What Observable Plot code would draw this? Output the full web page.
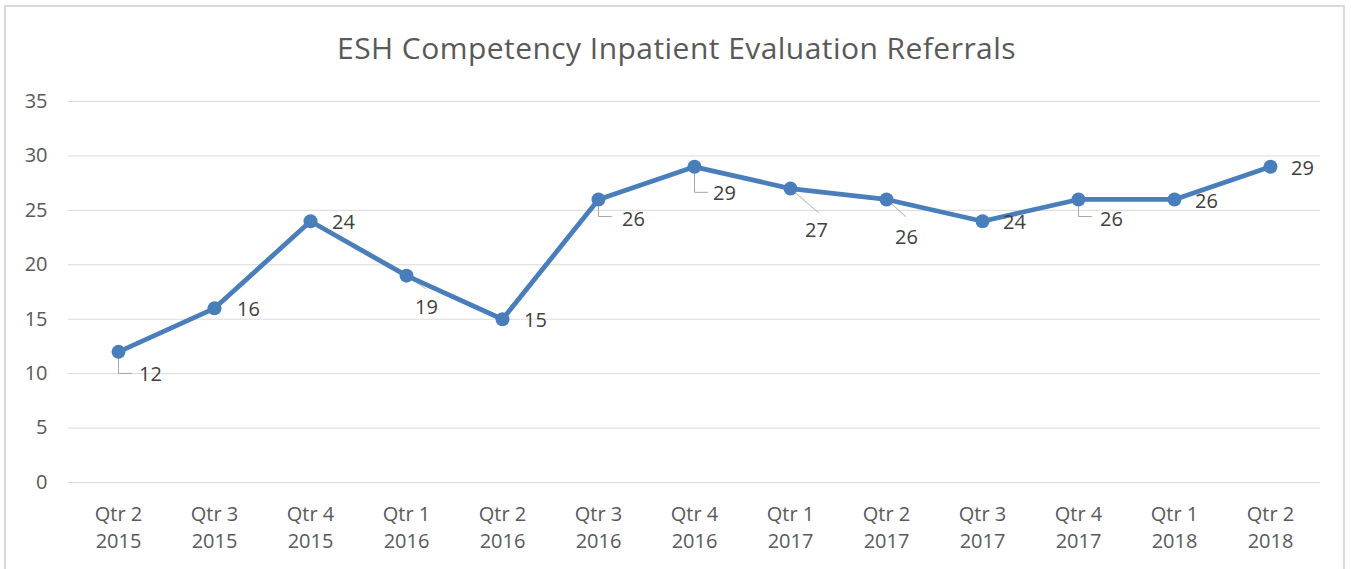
<!DOCTYPE html>
<html>
<head>
<meta charset="utf-8">
<script src="https://cdn.jsdelivr.net/npm/d3@7"></script>
<script src="https://cdn.jsdelivr.net/npm/@observablehq/plot@0.6"></script>
<style>
  html, body { margin: 0; padding: 0; background: #fff; width: 1351px; height: 569px; overflow: hidden; }
  #frame { position: absolute; left: 4px; top: 5px; width: 1341px; height: 600px; border: 2px solid #d9d9d9; box-sizing: border-box; }
  #title { position: absolute; left: 0; width: 1353px; top: 27px; text-align: center; font-family: "Open Sans", sans-serif; font-size: 30px; letter-spacing: 0.45px; color: #595959; line-height: 42px; }
  #chart { position: absolute; left: 0; top: 0; }
</style>
</head>
<body>
<div id="frame"></div>
<div id="title">ESH Competency Inpatient Evaluation Referrals</div>
<div id="chart"></div>
<script>
const categories = ["Qtr 2\n2015", "Qtr 3\n2015", "Qtr 4\n2015", "Qtr 1\n2016", "Qtr 2\n2016", "Qtr 3\n2016", "Qtr 4\n2016", "Qtr 1\n2017", "Qtr 2\n2017", "Qtr 3\n2017", "Qtr 4\n2017", "Qtr 1\n2018", "Qtr 2\n2018"];
const values = [12, 16, 24, 19, 15, 26, 29, 27, 26, 24, 26, 26, 29];
const yTicks = [0, 5, 10, 15, 20, 25, 30, 35];

// label placement (pixel offsets from each point, like Excel's auto-placed data labels)
const labelDx = [32, 34, 33, 20, 33, 35, 30, 26, 20, 32, 33, 32, 32];
const labelDy = [23, 1, 1, 32, 1, 20, 27, 42, 38, 1, 20, 2, 2];
// leader lines: [index, kind, dx, dy]
const leaders = [
  [0, "elbow", 0, 21.5],
  [3, "diag", 19, 13],
  [5, "elbow", 0, 17],
  [6, "elbow", 0, 25.5],
  [7, "diag", 28, 24],
  [8, "diag", 19, 17],
  [10, "elbow", 0, 17]
];

const data = categories.map((c, i) => ({cat: c, value: values[i], i}));
const blue = "#4a7ebb";

const elbowShape = {draw(ctx, l) { ctx.moveTo(0, 0); ctx.lineTo(0, -l); ctx.lineTo(-13, -l); }};
const lineShape = {draw(ctx, l) { ctx.moveTo(0, 0); ctx.lineTo(0, -l); }};

const leaderData = leaders.map(([i, kind, dx, dy]) => ({
  cat: categories[i], value: values[i], kind,
  length: Math.hypot(dx, dy),
  rotate: kind === "elbow" ? 180 : Math.atan2(dx, -dy) * 180 / Math.PI
}));

const textMarks = data.map((d, k) => Plot.text([d], {
  x: "cat", y: "value", text: (d) => String(d.value),
  dx: labelDx[k], dy: labelDy[k], fill: "#404040", fontSize: 20
}));

const chart = Plot.plot({
  width: 1351, height: 569,
  marginTop: 101, marginBottom: 87, marginLeft: 68, marginRight: 31,
  style: {fontFamily: "'Open Sans', sans-serif", fontSize: "20px", background: "transparent", color: "#595959", overflow: "visible"},
  x: {type: "point", domain: categories, padding: 0.5, label: null},
  y: {domain: [0, 35], label: null},
  length: {type: "identity"},
  marks: [
    Plot.gridY(yTicks, {stroke: "#d9d9d9", strokeOpacity: 1, strokeWidth: 1}),
    Plot.axisY(yTicks, {tickSize: 0, tickPadding: 21, fill: "#595959", fontSize: 20, label: null}),
    Plot.axisX({tickSize: 0, tickPadding: 19, lineHeight: 1.35, fill: "#595959", fontSize: 20, label: null}),
    Plot.vector(leaderData.filter(d => d.kind === "elbow"), {x: "cat", y: "value", length: "length", rotate: "rotate", anchor: "start", shape: elbowShape, stroke: "#a6a6a6", strokeWidth: 1}),
    Plot.vector(leaderData.filter(d => d.kind === "diag"), {x: "cat", y: "value", length: "length", rotate: "rotate", anchor: "start", shape: lineShape, stroke: "#bfbfbf", strokeWidth: 1}),
    Plot.line(data, {x: "cat", y: "value", stroke: blue, strokeWidth: 4.8, strokeLinejoin: "round"}),
    Plot.dot(data, {x: "cat", y: "value", r: 7, fill: blue, stroke: "none"}),
    ...textMarks
  ]
});
document.getElementById("chart").appendChild(chart);
</script>
</body>
</html>
